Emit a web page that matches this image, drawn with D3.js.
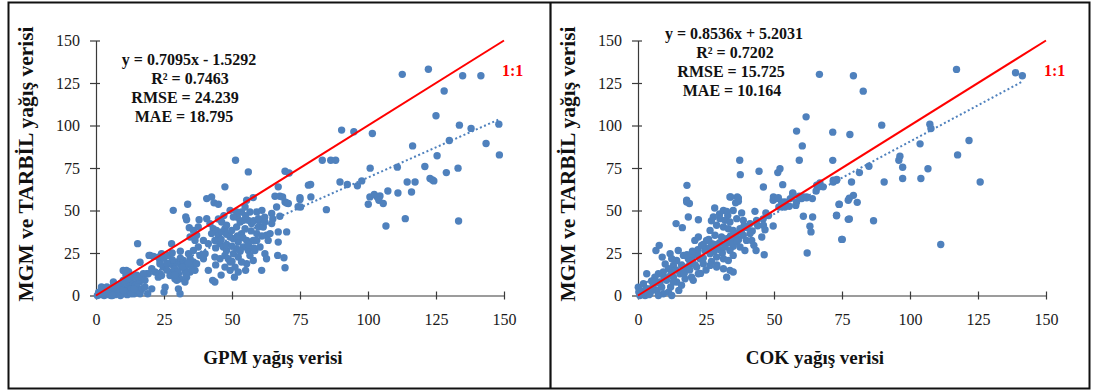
<!DOCTYPE html>
<html>
<head>
<meta charset="utf-8">
<script src="https://cdn.jsdelivr.net/npm/d3@7"></script>
<style>
  body { margin: 0; background: #fff; }
  svg text { font-family: "Liberation Serif", "Times New Roman", serif; }
</style>
</head>
<body>
<script>
// tick values shared by both axes of both panels
const tickValues = [0, 25, 50, 75, 100, 125, 150];

// GPM vs MGM/TARBIL points [x, y]
const gpmPairs = [
  [0.5,0],[1,2],[1.5,0.5],[2,5],[2.5,1],[3,0],[3,3],[3.5,1.5],[4,5],[4.5,0.5],[5,2],[5,4],[5.5,0],[6,1],
  [6,3.5],[6.5,6],[7,0.5],[7,2.5],[7.5,4.5],[8,1],[8,6],[8.5,3],[9,0],[9,7],[9.5,2],[10,5],[10,1],[10.5,9],
  [11,3],[11,12],[11.5,0.5],[12,6],[12,14],[12.5,2],[13,8],[13,4],[13.5,11],[14,1],[14.5,6],[15,3],[16,2],
  [16,8],[15,12],[6.4,7.9],[10,14.7],[11.2,14.7],[10,8.8],[15.6,8.8],[16.2,1],[20.5,3.9],[16.8,10.8],
  [18.6,12.8],[19.9,23.6],[23.5,20.6],[23.5,12.8],[22.9,10.8],[15.3,30.5],[19.5,23.6],[21.1,23],[16.2,19.6],
  [19.2,12.8],[23.5,18.7],[24.7,16.7],[22.9,12.8],[24.1,11.8],[25.4,4.9],[25,2],[22.9,22.6],[24.1,24.6],
  [26.6,23.6],[20.5,15.7],[21.7,13.8],[17.4,12.8],[18,8.9],[16.2,2],[15,5],
  [1,1],[2,3],[3,2],[4,2],[5,1],[6,0],[7,6],[8,4],[9,3],[10,3],[11,7],[12,10],[13,1],[14,4],[17,4],[18,5],[19,1],
  [27.2,18.7],[28.4,17.7],[29,15.7],[29.7,19.7],[30.9,18.7],[31.5,16.7],[32.1,20.6],[32.7,14.8],[33.3,17.7],
  [27.8,13.8],[30.3,12.8],[27.2,11.8],[29,9.8],[30.9,9.8],[33.3,10.8],[34.6,13.8],[35.2,16.7],[35.8,19.7],
  [34.6,21.6],[34,24.6],[37,18.7],[36.4,14.8],[29.7,8.9],[30.3,3.9],[30.9,1],[32.7,7.9],[27.8,30.5],
  [26,15],[28,21],[30,14],[31,22],[33,13],[26,19],[29,12],[32,17],[34,19],[28,25],[31,26],[25,22],
  [28.4,50.1],[33.7,53.7],[33,46.2],[33.3,44.6],[37.9,44.6],[34.3,39.9],[34.6,34.4],[36.4,32.4],[37.6,28.5],
  [35.8,26.5],[38.2,23.6],[39.5,21.6],[40.1,24.6],[40.7,57],[42.5,58],[43.4,54.5],[45,53.7],[41.3,14.8],
  [42.9,8.9],[43.7,7.9],[41.9,42.3],[43.1,39.3],[44.3,38.3],[42.5,36.4],[45,35.4],[46.2,37.4],[47.4,39.3],
  [43.7,32.4],[45.6,30.5],[46.8,28.5],[48,26.5],[43.7,22.6],[45.6,21.6],[47.4,23.6],[48.6,21.6],[49.3,19.7],
  [47.4,16.7],[49.3,14.8],[51.1,16.7],[50.9,10.8],[52.3,13.8],[50.5,24.6],[51.7,27.5],[52.3,31.5],[50.5,33.4],
  [49.3,34.4],[53.5,36.4],[54.8,39.3],[55.4,32.4],[54.2,28.5],[56,26.5],[56.6,23.6],[55.4,18.7],[55,14.8],
  [57.8,20.6],[58.4,26.5],[57.8,32.4],[59.1,36.4],[59.7,40.3],[57.2,42.3],[56,44.2],[54.2,44.2],[53.5,49.1],
  [51.7,49.1],[56.6,49.1],[59.1,49.1],[61,50.1],[57.8,57.6],[55.4,56],[61.5,40.3],[62.7,35.4],[63.3,32.4],
  [62.1,24.6],[62.7,21.6],[60.9,14.8],[64.6,48.2],[66.4,52.1],[67.6,46.6],[65.8,58.4],[67.6,58.4],[67,63.9],
  [68.6,58],[69.5,55],[70.7,54.1],[69.5,16.3],[66.8,23.6],[69.1,22.2],[70.1,37.4],[67,37.4],[67,31.4],
  [44,28],[46,33],[48,30],[50,29],[52,35],[54,34],[56,30],[58,28],[45,45],[47,47],[52,46],[55,47],[58,44],
  [60,44],[57,38],[48,36],[50,20],[44,18],[46,12],[53,26],[61,35],[62,46],[65,45],
  [75,56.4],[75.2,52.1],[78.1,64.9],[47.4,63.9],[51.3,79.6],[56,72.7],[69.5,73.1],[71,72.1],
  [40.7,45.2],[46.2,43.2],[48,41.3],[49.9,38.3],[51.7,40.3],[53,43.2],[50.5,46.2],[49.3,50.1],[54.8,52.1],
  [59.7,45.2],[62.1,43.2],[64.6,42.3],[64,36.4],[59.1,32.4],[60.3,28.5],[52.3,22.6],[53.5,19.7],[41.3,30.5],
  [39.5,32.4],[37,35.4],[35.8,38.3],[37.6,40.3],[70.1,54.4],[75,57.6],[79,58],[74.3,52.2],[84.7,50.5],
  [112.6,130.1],[122.2,133.1],[134.8,129.3],[141.5,129.3],[128,120.3],[125,105.7],[90.3,97.3],[94.8,96.3],
  [101.6,95.3],[133.6,100.2],[137.9,98.3],[148.1,100.8],[129.9,91.2],[116.4,88],[143.4,89.4],[125.4,82.2],
  [148.3,82.7],[83.2,79.6],[86.3,79.6],[88.1,79.6],[100.8,74.9],[110.8,75.5],[120.9,75.9],[133.1,74.9],
  [128.8,72.3],[89.7,66.8],[92.4,65.3],[96.1,64.5],[97.7,67.4],[78.9,65.3],[114.4,66.8],[117.3,66.8],
  [122.8,68.8],[123.7,68],[124.2,67.4],[116,60.9],[111,60.3],[107.3,61.5],[100.7,58],[102.3,59.4],[103.4,58],
  [104.4,58.6],[104,56],[105.6,54.1],[100.1,53.7],[113.7,45.2],[106.6,40.9],[133.3,43.8]
];

// COK vs MGM/TARBIL points [x, y]
const cokPairs = [
  [0.1,4.9],[2,6.9],[3.8,3.9],[5.6,5.9],[6.9,3],[8.7,4.9],[9.3,1],[11.2,2],[12.4,0],[4.4,1],[2.6,0],[0.7,0],
  [7.5,0],[10.5,8.9],[13,10.8],[14.2,7.9],[15.4,12.8],[16.7,14.8],[17.9,16.7],[19.1,18.7],[19.7,10.8],
  [17.3,9.8],[18.5,21.6],[16.7,23.6],[14.8,26.5],[13,17.7],[11.2,15.7],[9.3,13.8],[7.5,12.8],[6.2,10.8],
  [11.8,24.6],[14.2,20.6],[20.3,23.6],[22.2,12.8],[20.3,8.9],[3.2,12.8],[0.3,2],[1.5,2.5],[5,8.5],[8,8],
  [12,5],[15,3],[16,6],[4,0.5],[9.5,11],[12.5,13.5],[10,18.5],
  [20,20],[22,24],[24,22],[26,28],[28,26],[30,31],[32,30],[34,35],[36,34],[38,38],[40,40],[42,38],[44,41],
  [30,27],[28,30],[26,33],[24,30],[22,27],[20,26],[18,24],[16,18],[14,15],[12,12],[10,10],[8,7],[6,8],
  [5,3],[3,4],[2,1],[1,1],[13,8],[17,13],[19,15],[21,18],[23,13],[25,15],[27,20],[29,18],[31,25],[33,31],
  [35,29],[37,33],[39,41],[46,45],[48,47],[54,55],[56,57],[58,53],[33,47],[35,50],[30,48],[27,44],
  [18,64.8],[17.9,55],[18.9,54.1],[18.5,46.2],[22.2,44.6],[14,42.3],[16.3,39.9],[6.6,26.5],[7.8,29.5],
  [8.9,22.6],[12.4,21.6],[33.8,58],[36.5,58],[36.9,55.4],[35.9,54.5],[28.2,51.5],[31.4,50.1],[32.6,49.5],
  [38.1,48.6],[43,49.5],[47,48.6],[49.7,56],[50.9,57],[52.8,55],[51.8,52.1],[54,52.1],[55.6,52.5],[56.9,59.9],
  [60.2,57],[62,58],[64.1,57],[60.8,46.6],[64.2,46.2],[63.2,40.7],[63.6,37.4],[62.2,25],[46.4,24],[42.6,29.5],
  [43.4,26.5],[49.7,40.9],[46.1,41.3],[46.7,38.7],[45.5,34.4],[43.6,44.2],[41.2,42.3],[74,53.7],[73,47.2],
  [77.3,56],[77.3,44.8],[74.9,33],[65.7,64.9],[66.9,66.2],[68.1,63.9],[59.3,58.4],[58.3,55],
  [27.7,46.2],[30.1,45.2],[32,44.2],[33.8,43.2],[28.9,41.3],[31.4,40.3],[33.2,39.3],[35,38.3],[36.3,36.4],
  [26.5,38.3],[28.3,35.4],[30.7,34.4],[32.6,33.4],[34.4,32.4],[36.3,31.5],[25.2,32.4],[27.1,30.5],[29.5,29.5],
  [32,28.5],[33.8,26.5],[35,23.6],[24.6,26.5],[26.5,24.6],[28.9,22.6],[31.4,21.6],[33.2,20.6],[22.8,21.6],
  [24,18.7],[26.5,17.7],[28.9,16.7],[31.4,15.7],[33.8,14.8],[32.6,10.8],[35,13.8],[21.6,16.7],[20.9,32.4],
  [22.2,34.4],[23.4,29.5],[37.5,39.3],[38.7,35.4],[39.9,32.4],[37.5,28.5],[39.3,26.5],[41.2,36.4],[41.8,32.4],
  [36.3,45.2],[38.7,44.2],
  [58.3,96.7],[61.8,105.1],[60.4,88],[59.3,79.6],[37.4,79.6],[37.6,71.1],[44.5,73.1],[51.4,72.3],[52.2,74.6],
  [53.2,65.2],[46.1,63.8],[56.9,60.3],[65.5,61.5],[66.3,63.8],[71.8,67.8],[73.1,68.2],[34.1,57.9],[36.9,57.3],
  [49.8,57.9],[51.6,57.5],[60.8,57.9],[62,57.5],[17.9,56],
  [117.1,133],[138.8,131],[141.3,129.3],[79.2,129.3],[66.7,130.1],[82.8,120.2],[89.6,100.2],[71.6,96.1],
  [77.9,94.7],[107.3,100.8],[107.7,98.2],[121.7,91.2],[103.7,89.2],[117.5,82.7],[96.3,81.9],[95.9,79.6],
  [71.6,79.5],[84.9,76],[97.3,75.4],[106.6,74.6],[81.4,72.3],[71.8,66.8],[73,67.8],[78.5,66.8],[90.5,66.8],
  [97.3,68.8],[104,68.8],[125.8,66.8],[79.2,58.9],[77.7,57.3],[80.6,54.8],[73.9,53.6],[73,46.9],[77.7,45],
  [86.6,44],[75.1,33],[111.3,30]
];

// fitted trend lines and statistics
const gpmFit = { slope: 0.7095, intercept: -1.5292 };
const cokFit = { slope: 0.8536, intercept: 5.2031 };
const gpmStats = ["y = 0.7095x - 1.5292", "R² = 0.7463", "RMSE =  24.239", "MAE = 18.795"];
const cokStats = ["y = 0.8536x + 5.2031", "R² = 0.7202", "RMSE = 15.725", "MAE = 10.164"];

const W = 1094, H = 392;
const svg = d3.select("body").append("svg")
    .attr("width", W)
    .attr("height", H);

function drawPanel(cfg) {
  const x = d3.scaleLinear().domain([0, 150]).range([cfg.x0, cfg.x0 + 408]);
  const y = d3.scaleLinear().domain([0, 150]).range([295.5, 40.5]);
  const g = svg.append("g");

  // axes with ticks crossing the axis line
  const xAxis = g.append("g")
      .attr("transform", "translate(0," + y(0) + ")")
      .call(d3.axisBottom(x).tickValues(tickValues).tickSize(4).tickSizeOuter(0).tickPadding(14));
  xAxis.selectAll(".tick line").attr("y1", -4).attr("y2", 4);

  const yAxis = g.append("g")
      .attr("transform", "translate(" + x(0) + ",0)")
      .call(d3.axisLeft(y).tickValues(tickValues).tickSize(5).tickPadding(11).tickSizeOuter(0));
  yAxis.selectAll(".tick line").attr("x1", 4).attr("x2", -6);

  g.selectAll(".domain, .tick line").attr("stroke", "#3a3a3a").attr("stroke-width", 1.2);
  g.selectAll(".tick text")
      .attr("fill", "#1a1a1a")
      .style("font-size", "16px")
      .style("font-family", "'Liberation Serif', serif");

  // points
  g.append("g").selectAll("circle")
      .data(cfg.data)
      .enter()
    .append("circle")
      .attr("cx", d => x(d[0]))
      .attr("cy", d => y(d[1]))
      .attr("r", 3.7)
      .attr("fill", "#4f81bd");

  // dotted linear trend over the data range
  const ext = d3.extent(cfg.data, d => d[0]);
  const line = d3.line().x(d => x(d)).y(d => y(cfg.fit.slope * d + cfg.fit.intercept));
  g.append("path")
      .attr("d", line(ext))
      .attr("fill", "none")
      .attr("stroke", "#4f81bd")
      .attr("stroke-width", 2)
      .attr("stroke-dasharray", "2,2.5");

  // 1:1 line
  g.append("line")
      .attr("x1", x(0)).attr("y1", y(0))
      .attr("x2", x(150)).attr("y2", y(150))
      .attr("stroke", "#ff0000")
      .attr("stroke-width", 2);

  g.append("text")
      .attr("x", x(150) - 2)
      .attr("y", 75.5)
      .attr("fill", "#ff0000")
      .style("font-size", "16px")
      .style("font-weight", "bold")
      .text("1:1");

  // statistics box
  g.selectAll(".stat")
      .data(cfg.stats)
      .enter()
    .append("text")
      .attr("class", "stat")
      .attr("x", (d, i) => cfg.statX[i])
      .attr("y", (d, i) => cfg.statY + i * 19)
      .attr("text-anchor", "middle")
      .style("font-size", "16px")
      .style("font-weight", "bold")
      .attr("fill", "#111")
      .text(d => d);

  // axis titles
  g.append("text")
      .attr("x", x(0) + 177)
      .attr("y", 364)
      .attr("text-anchor", "middle")
      .style("font-size", "19px")
      .style("font-weight", "bold")
      .attr("fill", "#111")
      .text(cfg.xTitle);

  g.append("text")
      .attr("transform", "translate(" + (cfg.x0 - 63) + ",164) rotate(-90)")
      .attr("text-anchor", "middle")
      .style("font-size", "21.5px")
      .style("font-weight", "bold")
      .attr("fill", "#111")
      .text("MGM ve TARBİL yağış verisi");
}

drawPanel({ x0: 96, data: gpmPairs, fit: gpmFit, stats: gpmStats,
            statX: [189, 190, 185, 184], statY: 65, xTitle: "GPM yağış verisi" });
drawPanel({ x0: 638, data: cokPairs, fit: cokFit, stats: cokStats,
            statX: [734, 735, 731, 732], statY: 39, xTitle: "COK yağış verisi" });

// frame around the two panels
svg.append("rect")
    .attr("x", 8.5).attr("y", 2.5)
    .attr("width", 1081).attr("height", 386)
    .attr("fill", "none")
    .attr("stroke", "#111")
    .attr("stroke-width", 2);
svg.append("line")
    .attr("x1", 550.5).attr("y1", 2.5)
    .attr("x2", 550.5).attr("y2", 388.5)
    .attr("stroke", "#111")
    .attr("stroke-width", 2.2);
</script>
</body>
</html>
